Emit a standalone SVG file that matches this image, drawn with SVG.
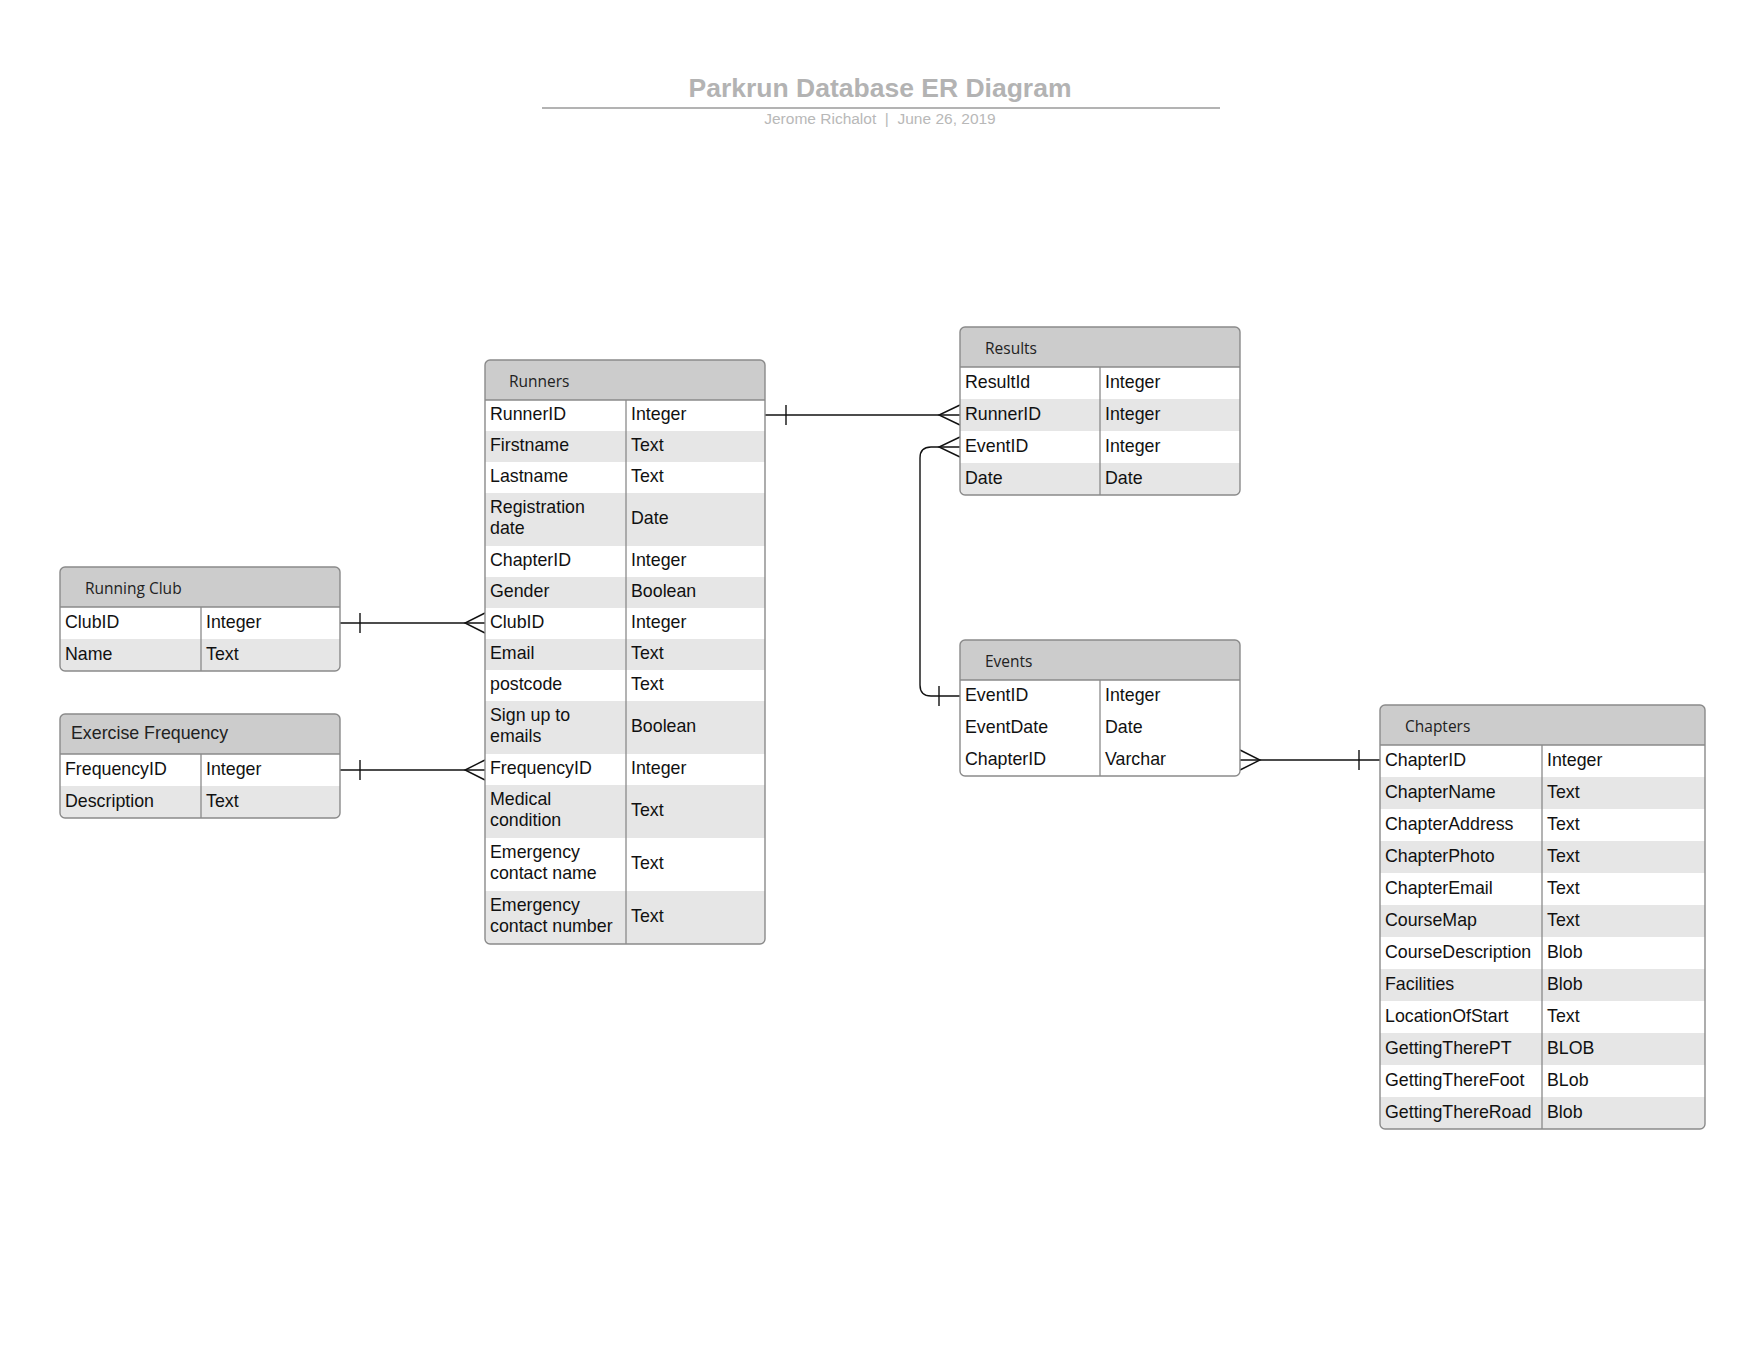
<svg xmlns="http://www.w3.org/2000/svg" width="1760" height="1360" viewBox="0 0 1760 1360">
<style>
.bg{fill:#ffffff}
.body{fill:#ffffff}
.hdr{fill:#cccccc}
.alt{fill:#e6e6e6}
.frame{fill:none;stroke:#8a8a8a;stroke-width:1.4}
.sep{stroke:#8a8a8a;stroke-width:1.3;fill:none}
.ht{font-family:"Open Sans","Liberation Sans",sans-serif;font-size:15.5px;fill:#222222}
.ht2{font-family:"Liberation Sans",Arial,sans-serif;font-size:17.8px;fill:#222222}
.t{font-family:"Liberation Sans",Arial,sans-serif;font-size:17.8px;fill:#111111}
.title{font-family:"Liberation Sans",Arial,sans-serif;font-size:26.5px;font-weight:bold;fill:#b3b3b3}
.sub{font-family:"Liberation Sans",Arial,sans-serif;font-size:15.5px;fill:#b8b8b8;white-space:pre}
.c{stroke:#111111;stroke-width:1.4;fill:none}
</style>
<defs>
<clipPath id="cpRunners"><rect x="485" y="360" width="280" height="584" rx="5"/></clipPath>
<clipPath id="cpClub"><rect x="60" y="567" width="280" height="104" rx="5"/></clipPath>
<clipPath id="cpFreq"><rect x="60" y="714" width="280" height="104" rx="5"/></clipPath>
<clipPath id="cpResults"><rect x="960" y="327" width="280" height="168" rx="5"/></clipPath>
<clipPath id="cpEvents"><rect x="960" y="640" width="280" height="136" rx="5"/></clipPath>
<clipPath id="cpChapters"><rect x="1380" y="705" width="325" height="424" rx="5"/></clipPath>
</defs>
<rect class="bg" x="0" y="0" width="1760" height="1360"/>

<g id="title">
<text class="title" x="880" y="97" text-anchor="middle">Parkrun Database ER Diagram</text>
<line x1="542" y1="108" x2="1220" y2="108" stroke="#b3b3b3" stroke-width="2"/>
<text class="sub" x="880" y="124" text-anchor="middle" xml:space="preserve">Jerome Richalot  |  June 26, 2019</text>
</g>

<g id="connectors">
<!-- Running Club ClubID to Runners ClubID -->
<line class="c" x1="340" y1="623" x2="485" y2="623"/>
<line class="c" x1="360" y1="613" x2="360" y2="633"/>
<path class="c" d="M485 613 L465 623 L485 633"/>
<!-- Exercise Frequency to Runners FrequencyID -->
<line class="c" x1="340" y1="770" x2="485" y2="770"/>
<line class="c" x1="360" y1="760" x2="360" y2="780"/>
<path class="c" d="M485 760 L465 770 L485 780"/>
<!-- Runners RunnerID to Results RunnerID -->
<line class="c" x1="765" y1="415" x2="960" y2="415"/>
<line class="c" x1="786" y1="405" x2="786" y2="425"/>
<path class="c" d="M960 405 L939 415 L960 425"/>
<!-- Events EventID to Results EventID -->
<path class="c" d="M960 696 H931 Q920 696 920 685 V458 Q920 447 931 447 H960"/>
<line class="c" x1="939" y1="686" x2="939" y2="706"/>
<path class="c" d="M960 437 L939 447 L960 457"/>
<!-- Events ChapterID to Chapters ChapterID -->
<line class="c" x1="1240" y1="760" x2="1380" y2="760"/>
<path class="c" d="M1240 750 L1260 760 L1240 770"/>
<line class="c" x1="1359" y1="750" x2="1359" y2="770"/>
</g>

<g id="runners">
<g clip-path="url(#cpRunners)">
<rect class="body" x="485" y="360" width="280" height="584"/>
<rect class="hdr" x="485" y="360" width="280" height="40"/>
<rect class="alt" x="485" y="431" width="280" height="31"/>
<rect class="alt" x="485" y="493" width="280" height="53"/>
<rect class="alt" x="485" y="577" width="280" height="31"/>
<rect class="alt" x="485" y="639" width="280" height="31"/>
<rect class="alt" x="485" y="701" width="280" height="53"/>
<rect class="alt" x="485" y="785" width="280" height="53"/>
<rect class="alt" x="485" y="891" width="280" height="53"/>
</g>
<line class="sep" x1="485" y1="400" x2="765" y2="400"/>
<line class="sep" x1="626" y1="400" x2="626" y2="944"/>
<rect class="frame" x="485" y="360" width="280" height="584" rx="5"/>
<text class="ht" x="509" y="386.5">Runners</text>
<text class="t" x="490" y="420">RunnerID</text><text class="t" x="631" y="420">Integer</text>
<text class="t" x="490" y="451">Firstname</text><text class="t" x="631" y="451">Text</text>
<text class="t" x="490" y="482">Lastname</text><text class="t" x="631" y="482">Text</text>
<text class="t" x="490" y="513">Registration</text><text class="t" x="490" y="533.5">date</text><text class="t" x="631" y="524">Date</text>
<text class="t" x="490" y="566">ChapterID</text><text class="t" x="631" y="566">Integer</text>
<text class="t" x="490" y="597">Gender</text><text class="t" x="631" y="597">Boolean</text>
<text class="t" x="490" y="628">ClubID</text><text class="t" x="631" y="628">Integer</text>
<text class="t" x="490" y="659">Email</text><text class="t" x="631" y="659">Text</text>
<text class="t" x="490" y="690">postcode</text><text class="t" x="631" y="690">Text</text>
<text class="t" x="490" y="721">Sign up to</text><text class="t" x="490" y="741.5">emails</text><text class="t" x="631" y="732">Boolean</text>
<text class="t" x="490" y="774">FrequencyID</text><text class="t" x="631" y="774">Integer</text>
<text class="t" x="490" y="805">Medical</text><text class="t" x="490" y="825.5">condition</text><text class="t" x="631" y="816">Text</text>
<text class="t" x="490" y="858">Emergency</text><text class="t" x="490" y="878.5">contact name</text><text class="t" x="631" y="869">Text</text>
<text class="t" x="490" y="911">Emergency</text><text class="t" x="490" y="931.5">contact number</text><text class="t" x="631" y="922">Text</text>
</g>

<g id="running-club">
<g clip-path="url(#cpClub)">
<rect class="body" x="60" y="567" width="280" height="104"/>
<rect class="hdr" x="60" y="567" width="280" height="40"/>
<rect class="alt" x="60" y="639" width="280" height="32"/>
</g>
<line class="sep" x1="60" y1="607" x2="340" y2="607"/>
<line class="sep" x1="201" y1="607" x2="201" y2="671"/>
<rect class="frame" x="60" y="567" width="280" height="104" rx="5"/>
<text class="ht" x="85" y="593.5">Running Club</text>
<text class="t" x="65" y="627.5">ClubID</text><text class="t" x="206" y="627.5">Integer</text>
<text class="t" x="65" y="659.5">Name</text><text class="t" x="206" y="659.5">Text</text>
</g>

<g id="exercise-frequency">
<g clip-path="url(#cpFreq)">
<rect class="body" x="60" y="714" width="280" height="104"/>
<rect class="hdr" x="60" y="714" width="280" height="40"/>
<rect class="alt" x="60" y="786" width="280" height="32"/>
</g>
<line class="sep" x1="60" y1="754" x2="340" y2="754"/>
<line class="sep" x1="201" y1="754" x2="201" y2="818"/>
<rect class="frame" x="60" y="714" width="280" height="104" rx="5"/>
<text class="ht2" x="71" y="739">Exercise Frequency</text>
<text class="t" x="65" y="774.5">FrequencyID</text><text class="t" x="206" y="774.5">Integer</text>
<text class="t" x="65" y="806.5">Description</text><text class="t" x="206" y="806.5">Text</text>
</g>

<g id="results">
<g clip-path="url(#cpResults)">
<rect class="body" x="960" y="327" width="280" height="168"/>
<rect class="hdr" x="960" y="327" width="280" height="40"/>
<rect class="alt" x="960" y="399" width="280" height="32"/>
<rect class="alt" x="960" y="463" width="280" height="32"/>
</g>
<line class="sep" x1="960" y1="367" x2="1240" y2="367"/>
<line class="sep" x1="1100" y1="367" x2="1100" y2="495"/>
<rect class="frame" x="960" y="327" width="280" height="168" rx="5"/>
<text class="ht" x="985" y="353.5">Results</text>
<text class="t" x="965" y="387.5">ResultId</text><text class="t" x="1105" y="387.5">Integer</text>
<text class="t" x="965" y="419.5">RunnerID</text><text class="t" x="1105" y="419.5">Integer</text>
<text class="t" x="965" y="451.5">EventID</text><text class="t" x="1105" y="451.5">Integer</text>
<text class="t" x="965" y="483.5">Date</text><text class="t" x="1105" y="483.5">Date</text>
</g>

<g id="events">
<g clip-path="url(#cpEvents)">
<rect class="body" x="960" y="640" width="280" height="136"/>
<rect class="hdr" x="960" y="640" width="280" height="40"/>
</g>
<line class="sep" x1="960" y1="680" x2="1240" y2="680"/>
<line class="sep" x1="1100" y1="680" x2="1100" y2="776"/>
<rect class="frame" x="960" y="640" width="280" height="136" rx="5"/>
<text class="ht" x="985" y="666.5">Events</text>
<text class="t" x="965" y="700.5">EventID</text><text class="t" x="1105" y="700.5">Integer</text>
<text class="t" x="965" y="732.5">EventDate</text><text class="t" x="1105" y="732.5">Date</text>
<text class="t" x="965" y="764.5">ChapterID</text><text class="t" x="1105" y="764.5">Varchar</text>
</g>

<g id="chapters">
<g clip-path="url(#cpChapters)">
<rect class="body" x="1380" y="705" width="325" height="424"/>
<rect class="hdr" x="1380" y="705" width="325" height="40"/>
<rect class="alt" x="1380" y="777" width="325" height="32"/>
<rect class="alt" x="1380" y="841" width="325" height="32"/>
<rect class="alt" x="1380" y="905" width="325" height="32"/>
<rect class="alt" x="1380" y="969" width="325" height="32"/>
<rect class="alt" x="1380" y="1033" width="325" height="32"/>
<rect class="alt" x="1380" y="1097" width="325" height="32"/>
</g>
<line class="sep" x1="1380" y1="745" x2="1705" y2="745"/>
<line class="sep" x1="1542" y1="745" x2="1542" y2="1129"/>
<rect class="frame" x="1380" y="705" width="325" height="424" rx="5"/>
<text class="ht" x="1405" y="731.5">Chapters</text>
<text class="t" x="1385" y="765.5">ChapterID</text><text class="t" x="1547" y="765.5">Integer</text>
<text class="t" x="1385" y="797.5">ChapterName</text><text class="t" x="1547" y="797.5">Text</text>
<text class="t" x="1385" y="829.5">ChapterAddress</text><text class="t" x="1547" y="829.5">Text</text>
<text class="t" x="1385" y="861.5">ChapterPhoto</text><text class="t" x="1547" y="861.5">Text</text>
<text class="t" x="1385" y="893.5">ChapterEmail</text><text class="t" x="1547" y="893.5">Text</text>
<text class="t" x="1385" y="925.5">CourseMap</text><text class="t" x="1547" y="925.5">Text</text>
<text class="t" x="1385" y="957.5">CourseDescription</text><text class="t" x="1547" y="957.5">Blob</text>
<text class="t" x="1385" y="989.5">Facilities</text><text class="t" x="1547" y="989.5">Blob</text>
<text class="t" x="1385" y="1021.5">LocationOfStart</text><text class="t" x="1547" y="1021.5">Text</text>
<text class="t" x="1385" y="1053.5">GettingTherePT</text><text class="t" x="1547" y="1053.5">BLOB</text>
<text class="t" x="1385" y="1085.5">GettingThereFoot</text><text class="t" x="1547" y="1085.5">BLob</text>
<text class="t" x="1385" y="1117.5">GettingThereRoad</text><text class="t" x="1547" y="1117.5">Blob</text>
</g>
</svg>
